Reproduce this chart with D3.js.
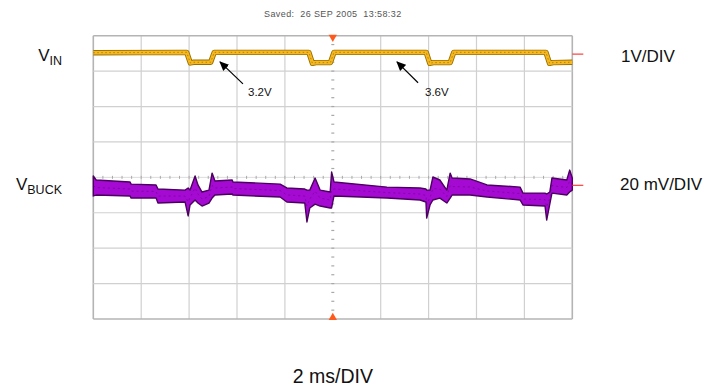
<!DOCTYPE html>
<html><head><meta charset="utf-8">
<script src="https://cdn.jsdelivr.net/npm/d3@7"></script>
<style>body{margin:0;background:#fff}svg{display:block;font-family:Arial,"Liberation Sans",sans-serif}</style>
</head><body><svg id="c" width="711" height="390"></svg>
<script>
// ---- data ----
const timeDomain = [0, 20];           // ms, 2 ms/DIV, 10 divisions
const vinTime  = [0, 3.9, 4.05, 4.2, 4.9, 5.05, 9.0, 9.15, 9.3, 9.9, 10.05, 13.9, 14.05, 14.2, 14.9, 15.05, 18.9, 19.05, 19.2, 20];
const vinVolts = [3.59, 3.6, 3.3, 3.32, 3.32, 3.6, 3.6, 3.29, 3.31, 3.31, 3.6, 3.6, 3.29, 3.31, 3.31, 3.6, 3.6, 3.29, 3.31, 3.32];
const vbuckTime = [0, 0.12, 1.53, 1.58, 2.62, 2.7, 3.83, 3.96, 4.04, 4.25, 4.37, 4.54, 4.83, 4.96, 5.08, 5.8, 5.83, 7.8, 8.08, 8.83, 8.92, 9.04, 9.26, 9.47, 9.89, 9.95, 10.05, 12.26, 13.64, 13.89, 13.92, 14.06, 14.18, 14.47, 14.76, 14.9, 14.98, 15.73, 16.44, 17.82, 17.94, 18.86, 18.93, 19.06, 19.15, 19.77, 19.89, 20];
const vbuckUpper = [5.3, 3.0, 1.9, 0.7, 0.2, -2.1, -2.7, -1.5, -2.7, 5.3, 0.2, -3.8, -2.7, 6.9, 2.4, 3.0, 1.9, 0.7, -1.5, -2.1, -2.7, -2.7, 4.1, -2.7, -3.8, 7.5, 1.9, -1.0, -1.5, -2.1, -2.7, -2.7, 4.7, 3.0, -2.7, 6.9, 4.1, 3.6, 0.2, -1.0, -4.4, -4.4, -4.9, -3.8, 4.1, 3.0, 8.6, 4.1];
const vbuckLower = [-6.0, -5.5, -6.0, -7.2, -7.2, -10.0, -9.4, -17.3, -11.1, -8.3, -10.0, -11.7, -10.0, -7.2, -5.5, -4.9, -5.5, -6.6, -9.4, -10.0, -20.7, -12.8, -10.6, -11.7, -12.8, -12.8, -6.0, -7.2, -8.3, -9.4, -18.5, -11.1, -8.3, -7.2, -10.0, -7.2, -5.5, -5.5, -6.6, -8.3, -11.1, -11.7, -19.6, -10.6, -4.4, -5.5, -3.8, -2.7];
const vinDomain = [-3.93, 4.07];      // V, 1 V/DIV, 8 divisions
const vbuckDomain = [-75.5, 84.5];    // mV, 20 mV/DIV, 8 divisions
const vinMarkerLevel = 3.55;          // V
const vbuckMarkerLevel = 0;           // mV
const annotationLabels = ["3.2V", "3.6V"];
const annotationHeadT = [5.29, 12.68], annotationHeadV = [3.33, 3.33];
const annotationTailT = [6.25, 13.56], annotationTailV = [2.71, 2.74];
const annotationTextT = [6.46, 13.85], annotationTextV = [2.37, 2.37];
const headerText = "Saved:  26 SEP 2005  13:58:32";

// ---- layout ----
const L = 93.3, R = 572.3, T = 35.7, B = 319;
const svg = d3.select("#c");
const x = d3.scaleLinear().domain(timeDomain).range([L, R]);
const yDiv = d3.scaleLinear().domain([-4, 4]).range([B, T]);
const yVin = d3.scaleLinear().domain(vinDomain).range([B, T]);
const yBuck = d3.scaleLinear().domain(vbuckDomain).range([B, T]);

// grid
const g = svg.append("g");
const xTicks = d3.range(0, 21, 2);
const yTicks = d3.range(-4, 5, 1);
g.selectAll(".vg").data(xTicks.filter(d => d !== 10)).join("line")
  .attr("x1", d => x(d)).attr("x2", d => x(d)).attr("y1", T).attr("y2", B)
  .attr("stroke", d => (d === 0 || d === 20) ? "#b4b4b4" : "#d0d0d0").attr("stroke-width", d => (d === 0 || d === 20) ? 1.6 : 1.2);
g.selectAll(".hg").data(yTicks.filter(d => d !== 0)).join("line")
  .attr("y1", d => yDiv(d)).attr("y2", d => yDiv(d)).attr("x1", L).attr("x2", R)
  .attr("stroke", d => Math.abs(d) === 4 ? "#b4b4b4" : "#d0d0d0").attr("stroke-width", d => Math.abs(d) === 4 ? 1.6 : 1.2);
// centre axes as minor tick marks
const minorX = d3.range(0, 20.001, 0.4);
g.append("line").attr("x1", L).attr("x2", R).attr("y1", yDiv(0)).attr("y2", yDiv(0)).attr("stroke", "#dcdcdc").attr("stroke-width", 1);
g.selectAll(".mx").data(minorX).join("line")
  .attr("x1", d => x(d)).attr("x2", d => x(d)).attr("y1", yDiv(0) - 1.5).attr("y2", yDiv(0) + 1.5)
  .attr("stroke", "#a8a8a8").attr("stroke-width", 1);
const minorY = d3.range(-4, 4.001, 0.25);
g.selectAll(".my").data(minorY).join("line")
  .attr("y1", d => yDiv(d)).attr("y2", d => yDiv(d)).attr("x1", x(10) - 1.5).attr("x2", x(10) + 1.5)
  .attr("stroke", "#a8a8a8").attr("stroke-width", 1.2);

// traces
const vinData = vinTime.map((t, i) => ({t, v: vinVolts[i]}));
const vinLine = d3.line().x(d => x(d.t)).y(d => yVin(d.v));
svg.append("path").datum(vinData).attr("d", vinLine).attr("fill", "none")
  .attr("stroke", "#9a7000").attr("stroke-width", 5.4).attr("stroke-linejoin", "round");
svg.append("path").datum(vinData).attr("d", vinLine).attr("fill", "none")
  .attr("stroke", "#f6b81e").attr("stroke-width", 3.6).attr("stroke-linejoin", "round");
svg.append("path").datum(vinData).attr("d", vinLine).attr("fill", "none")
  .attr("stroke", "#6a4a00").attr("stroke-width", 0.8).attr("stroke-dasharray", "1.5,2.5").attr("opacity", 0.6);

const buckData = vbuckTime.map((t, i) => ({t, hi: vbuckUpper[i], lo: vbuckLower[i]}));
const buckArea = d3.area().x(d => x(d.t)).y0(d => yBuck(d.lo)).y1(d => yBuck(d.hi));
svg.append("path").datum(buckData).attr("d", buckArea)
  .attr("fill", "#a40ad2").attr("stroke", "#4c0060").attr("stroke-width", 1.4).attr("stroke-linejoin", "round");
const midLine = d3.line().x(d => x(d.t)).y(d => yBuck((d.hi + d.lo) / 2));
svg.append("path").datum(buckData).attr("d", midLine).attr("fill", "none")
  .attr("stroke", "#5a0070").attr("stroke-width", 0.7).attr("stroke-dasharray", "2,3").attr("opacity", 0.6);

// trigger markers
svg.append("path").attr("d", d3.symbol(d3.symbolTriangle, 30)()).attr("transform", `translate(${x(10)},${T + 1.5}) rotate(180)`).attr("fill", "#ff5a1e");
svg.append("path").attr("d", d3.symbol(d3.symbolTriangle, 30)()).attr("transform", `translate(${x(10)},${B - 1.5})`).attr("fill", "#ff5a1e");
// channel level markers on right
[yVin(vinMarkerLevel), yBuck(vbuckMarkerLevel)].forEach(yy => {
  svg.append("line").attr("x1", R).attr("x2", R + 11).attr("y1", yy).attr("y2", yy).attr("stroke", "#ff3c3c").attr("stroke-width", 1.2);
});

// annotations with arrows
const defs = svg.append("defs");
defs.append("marker").attr("id", "ah").attr("viewBox", "0 0 10 10").attr("refX", 9).attr("refY", 5)
  .attr("markerWidth", 8).attr("markerHeight", 8).attr("orient", "auto")
  .append("path").attr("d", "M0,0.5 L10,5 L0,9.5 Z").attr("fill", "#000");
annotationLabels.forEach((lab, i) => {
  svg.append("line").attr("x1", x(annotationTailT[i])).attr("y1", yVin(annotationTailV[i]))
    .attr("x2", x(annotationHeadT[i])).attr("y2", yVin(annotationHeadV[i]))
    .attr("stroke", "#000").attr("stroke-width", 1.2).attr("marker-end", "url(#ah)");
  svg.append("text").attr("x", x(annotationTextT[i])).attr("y", yVin(annotationTextV[i])).attr("font-size", 11.5).attr("fill", "#111").text(lab);
});

// header
svg.append("text").attr("x", x(10)).attr("y", 17).attr("text-anchor", "middle")
  .attr("font-size", 9).attr("letter-spacing", 0.4).attr("fill", "#555").style("white-space", "pre").text(headerText);

// channel labels
function sublabel(xx, yy, main, sub) {
  const t = svg.append("text").attr("x", xx).attr("y", yy).attr("text-anchor", "end").attr("fill", "#111");
  t.append("tspan").attr("font-size", 17).text(main);
  t.append("tspan").attr("font-size", 12.5).attr("dy", 4).text(sub);
}
sublabel(62, 61, "V", "IN");
sublabel(62, 190, "V", "BUCK");
svg.append("text").attr("x", 621).attr("y", 62).attr("font-size", 17).attr("fill", "#111").text("1V/DIV");
svg.append("text").attr("x", 620).attr("y", 190).attr("font-size", 17).attr("fill", "#111").text("20 mV/DIV");
svg.append("text").attr("x", x(10)).attr("y", 383).attr("text-anchor", "middle").attr("font-size", 19.5).attr("fill", "#111").text("2 ms/DIV");
</script></body></html>
